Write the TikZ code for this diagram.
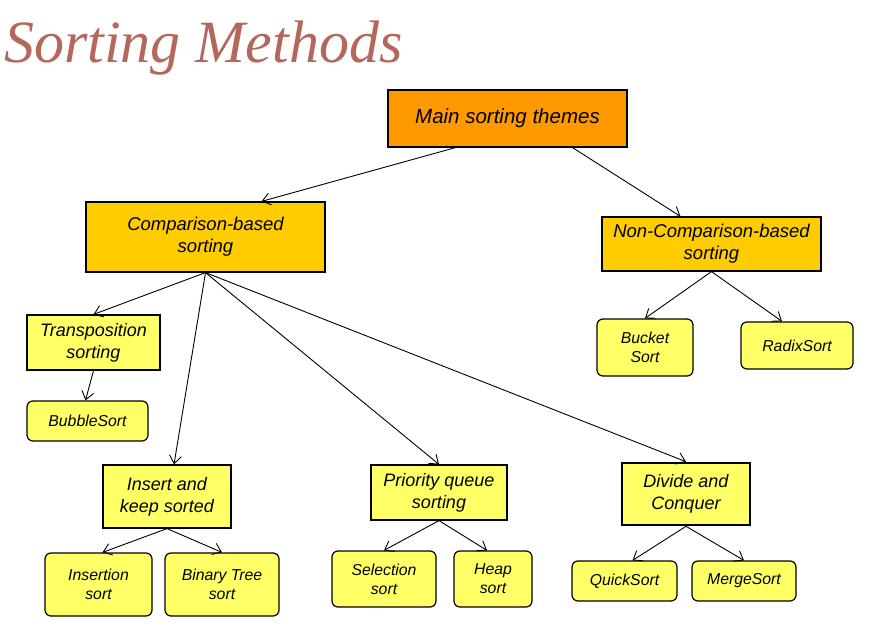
\documentclass[tikz,border=0pt]{standalone}
\usepackage{fontspec}
\setsansfont{Liberation Sans}
\newfontfamily\titlefont{Liberation Serif}
\usetikzlibrary{arrows.meta}
\definecolor{themeorange}{RGB}{255, 153, 0}
\definecolor{groupgold}{RGB}{255, 204, 0}
\definecolor{leafyellow}{RGB}{255, 255, 102}
\definecolor{titlered}{RGB}{180, 104, 92}

\begin{document}
\begin{tikzpicture}[
					x=1pt, y=-1pt,
					theme/.style={draw, line width=1.2pt, fill=themeorange, inner sep=0pt, align=center,
						font=\sffamily\itshape\fontsize{20.5}{24}\selectfont},
					group/.style={draw, line width=1.2pt, fill=groupgold, inner sep=0pt, align=center,
						font=\sffamily\itshape\fontsize{18.5}{22}\selectfont},
					family/.style={draw, line width=1.2pt, fill=leafyellow, inner sep=0pt, align=center,
						font=\sffamily\itshape\fontsize{18}{22}\selectfont},
					sortbox/.style={draw, line width=1.2pt, rounded corners=6pt, fill=leafyellow, inner sep=0pt,
						align=center, font=\sffamily\itshape\fontsize{15.8}{19}\selectfont},
					arr/.style={-{Straight Barb[length=8pt,width=12pt]}, line width=0.9pt, black}
					]
					\useasboundingbox (0,0) rectangle (877,639);
					\node[anchor=base west, text=titlered, inner sep=0pt,
						font=\titlefont\itshape\fontsize{60}{62}\selectfont] (title) at (4,63) {Sorting Methods};
					
					\node[theme, minimum width=239pt, minimum height=57pt] (main)   at (507.5,118.5) {Main sorting themes};
					\node[group, minimum width=239pt, minimum height=70pt] (comp)   at (205.5,237)   {Comparison-based\\sorting};
					\node[group, minimum width=219pt, minimum height=54pt] (noncomp) at (711.5,244)  {Non-Comparison-based\\sorting};
					
					\node[family, minimum width=133pt, minimum height=55pt] (trans)  at (93.5,342.5) {Transposition\\sorting};
					\node[family, minimum width=128pt, minimum height=63pt] (insert) at (167,496.5)  {Insert and\\keep sorted};
					\node[family, minimum width=136pt, minimum height=55pt] (prio)   at (439,492.5)  {Priority queue\\sorting};
					\node[family, minimum width=128pt, minimum height=62pt, line width=2.6pt] (divide) at (686,494) {Divide and\\Conquer};
					
					\node[sortbox, minimum width=121pt, minimum height=40pt] (bubble)    at (87.5,421)   {BubbleSort};
					\node[sortbox, minimum width=96pt,  minimum height=57pt] (bucket)    at (645,347.5)  {Bucket\\Sort};
					\node[sortbox, minimum width=112pt, minimum height=47pt] (radix)     at (797,345.5)  {RadixSort};
					\node[sortbox, minimum width=107pt, minimum height=63pt] (insertion) at (98.5,584.5) {Insertion\\sort};
					\node[sortbox, minimum width=114pt, minimum height=63pt] (binary)    at (222,584.5)  {Binary Tree\\sort};
					\node[sortbox, minimum width=104pt, minimum height=56pt] (selection) at (384,579)    {Selection\\sort};
					\node[sortbox, minimum width=78pt,  minimum height=56pt] (heap)      at (493,579)    {Heap\\sort};
					\node[sortbox, minimum width=105pt, minimum height=40pt] (quick)     at (624.5,581)  {QuickSort};
					\node[sortbox, minimum width=104pt, minimum height=40pt] (merge)     at (744,581)    {MergeSort};
					
					\draw[arr] ([xshift=-52pt]main.south) -- ([xshift=56pt]comp.north);
					\draw[arr] ([xshift=65pt]main.south)  -- ([xshift=-31pt]noncomp.north);
					
					\draw[arr] (comp.south) -- (trans.north);
					\draw[arr] (comp.south) -- ([xshift=7pt]insert.north);
					\draw[arr] (comp.south) -- (prio.north);
					\draw[arr] (comp.south) -- (divide.north);
					\draw[arr] (trans.south) -- ([xshift=-2pt]bubble.north);
					
					\draw[arr] (noncomp.south) -- (bucket.north);
					\draw[arr] (noncomp.south) -- ([xshift=-15pt]radix.north);
					
					\draw[arr] (insert.south) -- ([xshift=4pt]insertion.north);
					\draw[arr] (insert.south) -- (binary.north);
					\draw[arr] (prio.south)   -- (selection.north);
					\draw[arr] (prio.south)   -- ([xshift=-6pt]heap.north);
					\draw[arr] (divide.south) -- ([xshift=8pt]quick.north);
					\draw[arr] (divide.south) -- (merge.north);
				\end{tikzpicture}
\end{document}
